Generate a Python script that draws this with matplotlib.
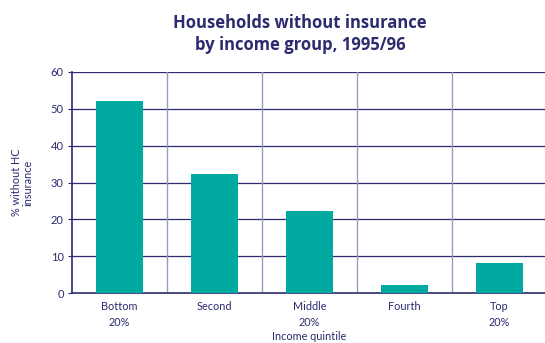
import matplotlib
matplotlib.use("Agg")
import matplotlib.pyplot as plt

categories = ["Bottom\n20%", "Second", "Middle\n20%", "Fourth", "Top\n20%"]
values = [52.2, 32.3, 22.3, 2.2, 8.2]
yticks = [0, 10, 20, 30, 40, 50, 60]

navy = "#2b2b6e"
teal = "#00aaa0"
vgrid = "#9a9abf"
tickfont = "Lato"

fig = plt.figure(figsize=(5.45, 3.43), dpi=100)
ax = fig.add_axes([72/545, 50/343, 475/545, 221/343])
x = list(range(len(categories)))
ax.bar(x, values, width=0.5, color=teal, zorder=3)
ax.set_xlim(-0.5, 4.5)
ax.set_ylim(0, 60)
ax.set_yticks(yticks)
for y in yticks[1:]:
    ax.axhline(y, color=navy, lw=0.9, zorder=1)
for b in [0.5, 1.5, 2.5, 3.5]:
    ax.axvline(b, color=vgrid, lw=1.0, zorder=1)
for s in ["top", "right"]:
    ax.spines[s].set_visible(False)
ax.spines["left"].set_color(navy)
ax.spines["bottom"].set_color(navy)
ax.spines["left"].set_linewidth(1.2)
ax.spines["bottom"].set_linewidth(1.2)
ax.set_xticks(x)
ax.set_xticklabels(categories, fontsize=7.8, color=navy, family=tickfont, linespacing=1.55)
ax.tick_params(axis="x", length=0, pad=6)
ax.tick_params(axis="y", length=3, color=navy, labelsize=8, labelcolor=navy, pad=3)
for lab in ax.get_yticklabels():
    lab.set_family(tickfont)
ax.set_xlabel("Income quintile", fontsize=7.8, color=navy, family=tickfont, labelpad=0)
ax.xaxis.set_label_coords(0.5, -0.17)
ax.set_ylabel("% without HC\ninsurance", fontsize=7.8, color=navy, family=tickfont, linespacing=1.0)
ax.yaxis.set_label_coords(-0.082, 0.5)
fig.text(300/545, 1 - 34/343, "Households without insurance\nby income group, 1995/96",
         ha="center", va="center", fontsize=12, fontweight="bold", color=navy,
         family="Open Sans", linespacing=1.35)
fig.savefig("out.png", dpi=100)
